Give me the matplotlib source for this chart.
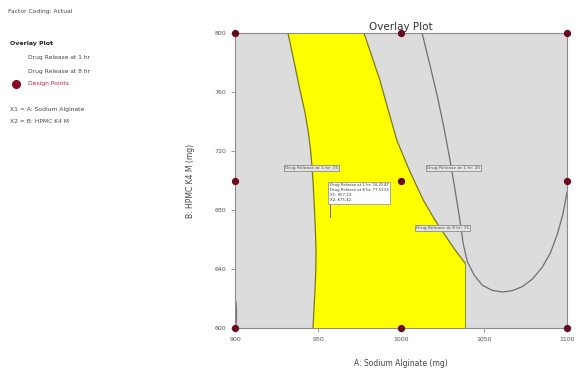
import matplotlib
matplotlib.use('Agg')
import matplotlib.pyplot as plt
from matplotlib.lines import Line2D
import numpy as np

# design points (A: Sodium Alginate, B: HPMC K4M)
design_a = [900, 900, 900, 1000, 1000, 1000, 1100, 1100, 1100]
design_b = [600, 700, 800, 600, 700, 800, 600, 700, 800]

# lower contour of drug release at 1 hr (left edge of window)
left_a = [931.9, 935.5, 939.2, 942.0, 944.0, 945.5, 946.4, 947.1, 947.6, 948.3, 948.8, 948.7, 948.2, 947.6, 947.0]
left_b = [800, 781, 761, 747, 734, 721, 709, 698, 687, 670, 653, 640, 626, 613, 600]

# upper edge of window (right side)
right_a = [977.7, 982.5, 987.3, 992.5, 997.6, 1005.0, 1013.3, 1020.0, 1026.5, 1032.5, 1038.6, 1038.6]
right_b = [800, 784, 768, 747, 727, 707, 687, 674, 663, 653, 644, 600]

# drug release at 8 hr contour
c8_a = [1012.7, 1017.5, 1022.3, 1026.0, 1029.5, 1032.5, 1035.5, 1037.5, 1040.0, 1044.0, 1049.0,
        1055.0, 1061.0, 1067.0, 1073.0, 1079.0, 1085.0, 1090.0, 1094.0, 1097.5, 1100.0]
c8_b = [800, 778, 755, 735, 714, 694, 673, 657, 645, 636, 629,
        625.5, 624.4, 625.3, 628, 633, 641, 651, 663, 677, 692]

# little contour piece at bottom-left corner
corner_a = [900.6, 901.0, 900.8, 900.2]
corner_b = [618, 610, 604, 600]

xticks = [900, 950, 1000, 1050, 1100]
yticks = [600, 640, 680, 720, 760, 800]

flag_a, flag_b = 957.2, 675.4
flag_lines = ['Drug Release at 1 hr: 16.2547',
              'Drug Release at 8 hr: 77.5213',
              'X1: 957.23',
              'X2: 675.42']


def run():
    fig = plt.figure(figsize=(5.82, 3.71), dpi=100)
    ax = fig.add_axes([235/582, 1-328/371, 332/582, 295/371])
    ax.set_xlim(900, 1100)
    ax.set_ylim(600, 800)
    ax.set_facecolor('#dcdcdc')

    # yellow sweet spot
    poly_a = left_a + right_a[::-1]
    poly_b = left_b + right_b[::-1]
    ax.fill(poly_a, poly_b, color='#ffff00', zorder=1, lw=0)
    ax.plot(left_a, left_b, color='#7a7a20', lw=0.9, zorder=2)
    ax.plot(right_a[:-1], right_b[:-1], color='#7a7a20', lw=0.9, zorder=2)
    ax.plot(right_a[-2:], right_b[-2:], color='#9a9a30', lw=0.8, zorder=2)
    ax.plot(c8_a, c8_b, color='#707070', lw=0.9, zorder=2)
    ax.plot(corner_a, corner_b, color='#707070', lw=0.8, zorder=2)

    # contour labels
    box = dict(boxstyle='square,pad=0.25', fc='#e4e4e4', ec='#8a8a8a', lw=0.6)
    ax.text(946, 708.5, 'Drug Release at 1 hr: 15', fontsize=3.2, ha='center', va='center',
            color='#555555', bbox=box, zorder=4)
    ax.text(1031.5, 708.5, 'Drug Release at 1 hr: 20', fontsize=3.2, ha='center', va='center',
            color='#555555', bbox=box, zorder=4)
    ax.text(1025, 668, 'Drug Release at 8 hr: 75', fontsize=3.2, ha='center', va='center',
            color='#555555', bbox=box, zorder=4)

    # flag
    ax.plot([flag_a, flag_a], [flag_b, flag_b + 10], color='#555555', lw=0.6, zorder=4)
    ax.text(flag_a, flag_b + 10, '\n'.join(flag_lines), fontsize=2.8, ha='left', va='bottom',
            color='#333333', linespacing=1.3,
            bbox=dict(boxstyle='square,pad=0.4', fc='white', ec='#999999', lw=0.6), zorder=4)

    ax.scatter(design_a, design_b, s=18, color='#6b0a1e', zorder=5, clip_on=False)

    for s in ax.spines.values():
        s.set_color('#8c8c8c')
        s.set_linewidth(0.8)
    ax.set_xticks(xticks)
    ax.set_yticks(yticks)
    ax.tick_params(labelsize=4.5, colors='#8c8c8c', labelcolor='#555555', length=3, width=0.6)
    ax.set_xlabel('A: Sodium Alginate (mg)', fontsize=5.5, color='#444444', labelpad=12)
    ax.set_ylabel('B: HPMC K4 M (mg)', fontsize=5.5, color='#444444', labelpad=14)
    ax.set_title('Overlay Plot', fontsize=7.5, color='#333333', pad=2)

    # left side legend text
    fig.text(8/582, 1-12/371, 'Factor Coding: Actual', fontsize=4.3, color='#444444', va='center')
    fig.text(10/582, 1-44/371, 'Overlay Plot', fontsize=4.5, color='#222222', weight='bold', va='center')
    fig.text(28/582, 1-57/371, 'Drug Release at 1 hr', fontsize=4.3, color='#444444', va='center')
    fig.text(28/582, 1-71/371, 'Drug Release at 8 hr', fontsize=4.3, color='#444444', va='center')
    fig.text(28/582, 1-84/371, 'Design Points', fontsize=4.3, color='#c0203a', va='center')
    dot = Line2D([16/582], [1-84/371], marker='o', markersize=5.5, color='#8a0a22',
                 linestyle='none', transform=fig.transFigure)
    fig.add_artist(dot)
    fig.text(10/582, 1-110/371, 'X1 = A: Sodium Alginate', fontsize=4.3, color='#444444', va='center')
    fig.text(10/582, 1-122/371, 'X2 = B: HPMC K4 M', fontsize=4.3, color='#444444', va='center')

    fig.savefig('out.png', dpi=100)


if __name__ == '__main__':
    run()
